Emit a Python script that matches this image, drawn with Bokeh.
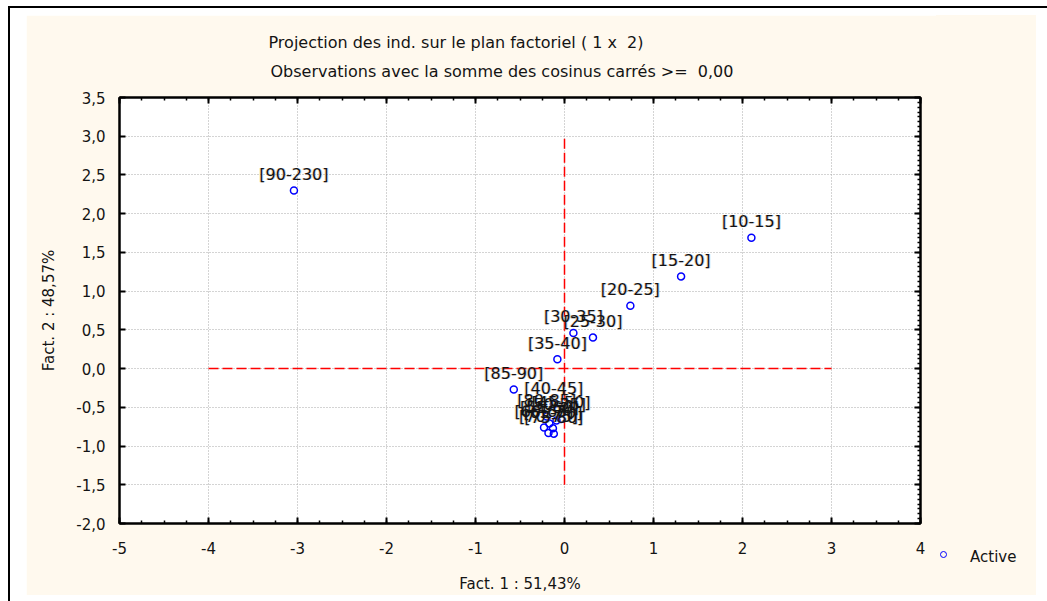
from bokeh.plotting import figure
from bokeh.models import (ColumnDataSource, Range1d, FixedTicker, LinearAxis, Grid,
                          CustomJSTickFormatter, Title, Spacer, Div)
from bokeh.core.properties import value
from bokeh.layouts import column, row
from bokeh.embed import file_html
from bokeh.resources import INLINE
import numpy as np

# Age classes projected on the first factorial plane
classes = ["[10-15]", "[15-20]", "[20-25]", "[25-30]", "[30-35]", "[35-40]",
           "[40-45]", "[45-50]", "[50-55]", "[55-60]", "[60-65]", "[65-70]",
           "[70-75]", "[75-80]", "[80-85]", "[85-90]", "[90-230]"]
fact1 = [2.10, 1.31, 0.74, 0.32, 0.10, -0.08,
         -0.12, -0.04, -0.09, -0.17, -0.23, -0.13,
         -0.18, -0.12, -0.20, -0.57, -3.04]
fact2 = [1.69, 1.19, 0.81, 0.40, 0.46, 0.12,
         -0.46, -0.65, -0.67, -0.71, -0.76, -0.77,
         -0.83, -0.84, -0.62, -0.27, 2.30]

x_ticks = [-5, -4, -3, -2, -1, 0, 1, 2, 3, 4]
y_ticks = [-2.0, -1.5, -1.0, -0.5, 0.0, 0.5, 1.0, 1.5, 2.0, 2.5, 3.0, 3.5]
x_minor = list(np.arange(-5, 4.001, 0.25))
y_minor = list(np.arange(-2, 3.501, 0.0625))

# Red reference axes through the origin
h_axis = dict(x0=[-4.0], x1=[3.0], y0=[0.0], y1=[0.0])
v_axis = dict(x0=[0.0], x1=[0.0], y0=[-1.5], y1=[3.0])

title_1 = "Projection des ind. sur le plan factoriel ( 1 x\u00a0 2)"
title_2 = "Observations avec la somme des cosinus carrés >=\u00a0 0,00"
x_label = "Fact. 1 : 51,43%"
y_label = "Fact. 2 : 48,57%"
series_name = "Active"

FONT = "DejaVu Sans"
TXT = "#141414"
CREAM = "#FFF9EE"
BLUE = "#0000FF"

p = figure(width=910, height=580, output_backend="svg", toolbar_location=None,
           x_range=Range1d(-5, 4), y_range=Range1d(-2, 3.5),
           min_border_left=93, min_border_right=16, min_border_top=82,
           min_border_bottom=72, x_axis_type=None, y_axis_type=None)
p.border_fill_color = CREAM
p.background_fill_color = "white"
p.outline_line_color = "black"
p.outline_line_width = 2

xt = FixedTicker(ticks=x_ticks, minor_ticks=x_minor)
yt = FixedTicker(ticks=y_ticks, minor_ticks=y_minor)
yt_left = FixedTicker(ticks=y_ticks, minor_ticks=[])

fmt_x = CustomJSTickFormatter(code="return tick.toFixed(0);")
fmt_y = CustomJSTickFormatter(code="return tick.toFixed(1).replace('.', ',');")
fmt_blank = CustomJSTickFormatter(code="return '';")


def style_axis(ax):
    ax.axis_line_color = "black"
    ax.axis_line_width = 2
    ax.major_tick_in = 6
    ax.major_tick_out = 0
    ax.minor_tick_in = 3
    ax.minor_tick_out = 0
    ax.major_tick_line_color = "black"
    ax.major_tick_line_width = 2
    ax.minor_tick_line_color = "black"
    ax.minor_tick_line_width = 1.5
    ax.major_label_text_font = FONT
    ax.major_label_text_color = TXT
    ax.major_label_text_font_size = "15px"
    ax.axis_label_text_font = FONT
    ax.axis_label_text_font_size = "15px"
    ax.axis_label_text_font_style = "normal"
    ax.axis_label_text_color = TXT


bottom = LinearAxis(ticker=xt, formatter=fmt_x, axis_label=x_label)
style_axis(bottom)
bottom.major_label_standoff = 18
bottom.axis_label_standoff = 18
p.add_layout(bottom, "below")

left = LinearAxis(ticker=yt_left, formatter=fmt_y, axis_label=y_label)
style_axis(left)
left.major_label_standoff = 14
left.axis_label_standoff = 15
p.add_layout(left, "left")

top = LinearAxis(ticker=xt, formatter=fmt_blank)
style_axis(top)
top.major_label_standoff = 0
p.add_layout(top, "above")

right = LinearAxis(ticker=yt, formatter=fmt_blank)
style_axis(right)
right.major_label_standoff = 0
p.add_layout(right, "right")

gx = Grid(dimension=0, ticker=xt, grid_line_color="#a8a8a8",
          grid_line_dash="1 2", grid_line_width=1)
gy = Grid(dimension=1, ticker=yt, grid_line_color="#a8a8a8",
          grid_line_dash="1 2", grid_line_width=1)
p.add_layout(gx)
p.add_layout(gy)

# Two heading lines above the frame (the first one added sits lowest)
p.add_layout(Title(text=title_2, text_font=FONT, text_font_size="16px",
                   text_font_style="normal", text_color=TXT, align="left",
                   offset=151, standoff=33), "above")
p.add_layout(Title(text=title_1, text_font=FONT, text_font_size="16px",
                   text_font_style="normal", text_color=TXT, align="left",
                   offset=149, standoff=-16), "above")

p.segment(x0="x0", x1="x1", y0="y0", y1="y1", source=ColumnDataSource(h_axis),
          line_color="red", line_width=1.5, line_dash="10 4")
p.segment(x0="x0", x1="x1", y0="y0", y1="y1", source=ColumnDataSource(v_axis),
          line_color="red", line_width=1.5, line_dash="10 4")

src = ColumnDataSource(dict(x=fact1, y=fact2, name=classes))
p.scatter("x", "y", source=src, marker="circle", size=7, fill_color=None,
          line_color=BLUE, line_width=1.5)

# Point labels, with a faint colour fringe on either side of the glyphs
label_style = dict(text_align="center", text_baseline="middle", y_offset=-16,
                   text_font=value(FONT), text_font_size="16px")
p.text("x", "y", text="name", source=src, x_offset=-1, text_color="#E09A3A",
       text_alpha=0.35, **label_style)
p.text("x", "y", text="name", source=src, x_offset=1, text_color="#3A78D0",
       text_alpha=0.3, **label_style)
p.text("x", "y", text="name", source=src, text_color=TXT, **label_style)

# Legend key to the right of the plot
legend_html = (
    '<div style="position:relative;width:100px;height:580px;">'
    '<div style="position:absolute;left:4px;top:536px;width:5px;height:5px;'
    f'box-sizing:content-box;border:1.5px solid {BLUE};border-radius:50%;"></div>'
    '<div style="position:absolute;left:34px;top:532px;white-space:nowrap;'
    f"font-family:'{FONT}';font-size:15px;line-height:20px;color:{TXT};\">"
    f'{series_name}</div></div>'
)
key = Div(text=legend_html, width=100, height=580, margin=(0, 0, 0, 0),
          styles={"background-color": CREAM})

# Page frame: black rules on the top and left edge around the cream panel
top_line = Spacer(width=1039, height=2, styles={"background-color": "black"})
left_line = Spacer(width=2, height=593, styles={"background-color": "black"})
inner = column(Spacer(width=1010, height=7), row(p, key))
body = row(left_line, Spacer(width=16, height=593), inner)
frame_block = column(top_line, body)
page = column(Spacer(width=1047, height=6), row(Spacer(width=8, height=595), frame_block))

open("out.html", "w").write(file_html(page, INLINE))
